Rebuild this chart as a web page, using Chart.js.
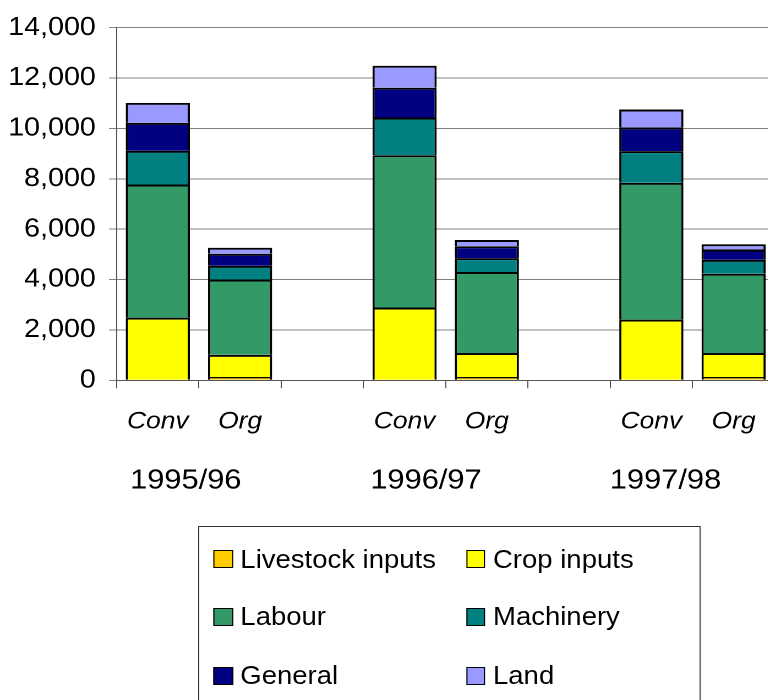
<!DOCTYPE html>
<html>
<head>
<meta charset="utf-8">
<script src="https://cdn.jsdelivr.net/npm/chart.js@4.4.1/dist/chart.umd.min.js"></script>
<style>
  html, body { margin: 0; padding: 0; overflow: hidden; background: #fff; }
  #wrap { position: relative; width: 705.5px; height: 700px; transform: scaleX(1.1); transform-origin: 0 0;
          font-family: 'Liberation Sans', Arial, sans-serif; }
  #legend { position: absolute; left: 180px; top: 526px; width: 457px; height: 200px;
            border: 1px solid #333; box-sizing: border-box; }
  .item { position: absolute; height: 30px; display: flex; align-items: center; font-size: 25px; color: #000; white-space: nowrap; }
  .swatch { width: 15.5px; height: 16px; border: 1px solid #000; margin-right: 7px; }
</style>
</head>
<body>
<div id="wrap">
  <canvas id="costs"></canvas>
  <div id="legend"></div>
</div>
<script>
const categories = ['Conv', 'Org', '', 'Conv', 'Org', '', 'Conv', 'Org'];
const years = ['1995/96', '1996/97', '1997/98'];

const livestock = [0, 130, null, 0, 130, null, 0, 130];
const crop      = [2490, 880, null, 2890, 955, null, 2410, 955];
const labour    = [5280, 2990, null, 6045, 3215, null, 5425, 3145];
const machinery = [1335, 540, null, 1495, 550, null, 1260, 550];
const general   = [1115, 485, null, 1180, 470, null, 945, 410];
const land      = [790, 235, null, 875, 250, null, 710, 210];

const seriesNames  = ['Livestock inputs', 'Crop inputs', 'Labour', 'Machinery', 'General', 'Land'];
const seriesValues = [livestock, crop, labour, machinery, general, land];
const seriesColors = ['#FFCC00', '#FFFF00', '#339966', '#008080', '#000080', '#9999FF'];

const family = "'Liberation Sans', Arial, sans-serif";

// year captions under the Conv/Org labels
const yearLabels = {
  id: 'yearLabels',
  afterDraw(chart) {
    const x = chart.scales.x;
    const ctx = chart.ctx;
    const spots = [0.105, 0.47, 0.834];
    ctx.save();
    ctx.font = '28px ' + family;
    ctx.fillStyle = '#000';
    ctx.textAlign = 'center';
    ctx.textBaseline = 'middle';
    years.forEach((y, i) => ctx.fillText(y, x.left + spots[i] * x.width, 481));
    ctx.restore();
  }
};

new Chart(document.getElementById('costs'), {
  type: 'bar',
  data: {
    labels: categories,
    datasets: seriesNames.map((name, i) => ({
      label: name,
      data: seriesValues[i],
      backgroundColor: seriesColors[i],
      borderColor: '#000',
      borderWidth: 2,
      borderSkipped: 'start',
      categoryPercentage: 1,
      barPercentage: 0.78
    }))
  },
  options: {
    responsive: true,
    maintainAspectRatio: false,
    animation: false,
    devicePixelRatio: 2,
    layout: { padding: { top: 22, right: 1, bottom: 259.7, left: 0 } },
    plugins: { legend: { display: false }, tooltip: { enabled: false } },
    scales: {
      x: {
        stacked: true,
        grid: { drawOnChartArea: false, offset: true, tickLength: 8, color: '#555' },
        border: { color: '#555', width: 1 },
        ticks: { font: { size: 24, style: 'italic', family: family }, color: '#000', padding: 19,
                 maxRotation: 0, autoSkip: false },
        afterFit: s => { s.height = 60; }
      },
      y: {
        stacked: true,
        min: 0,
        max: 14000,
        ticks: { stepSize: 2000, font: { size: 26, family: family }, color: '#000', padding: 12,
                 callback: v => v.toLocaleString('en-US') },
        grid: { color: '#808080', tickLength: 7 },
        border: { color: '#555', width: 1 },
        afterFit: s => { s.width = 106; }
      }
    }
  },
  plugins: [yearLabels]
});

// boxed legend, two columns
const legend = document.getElementById('legend');
const rowCenters = [32, 89.5, 148.5];
seriesNames.forEach((name, i) => {
  const item = document.createElement('div');
  item.className = 'item';
  item.style.left = (13 + (i % 2) * 229.7) + 'px';
  item.style.top = (rowCenters[Math.floor(i / 2)] - 15) + 'px';
  const sw = document.createElement('span');
  sw.className = 'swatch';
  sw.style.background = seriesColors[i];
  item.appendChild(sw);
  item.appendChild(document.createTextNode(name));
  legend.appendChild(item);
});
</script>
</body>
</html>
